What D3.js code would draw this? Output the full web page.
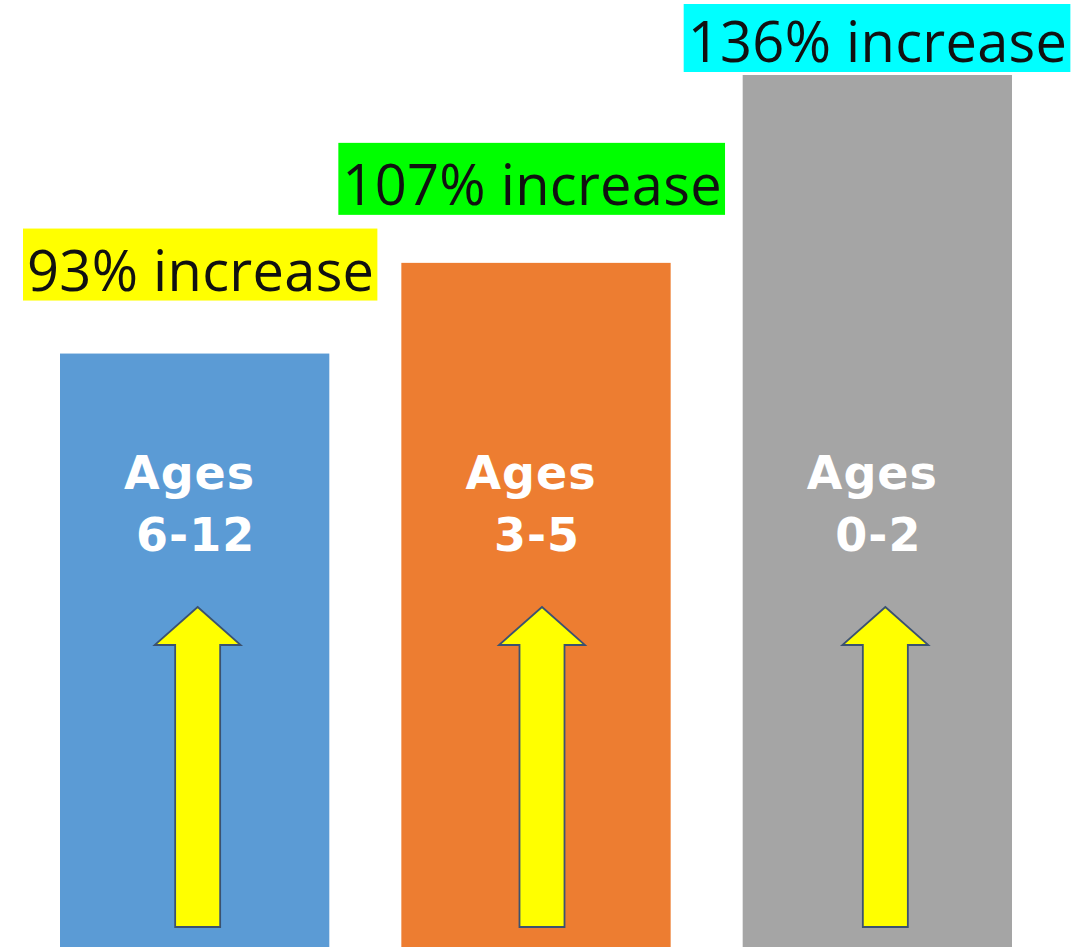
<!DOCTYPE html>
<html>
<head>
<meta charset="utf-8">
<script src="https://cdn.jsdelivr.net/npm/d3@7"></script>
<style>
  html, body { margin: 0; padding: 0; background: #ffffff; }
  svg { display: block; }
</style>
</head>
<body>
<svg id="chart" width="1089" height="947"></svg>
<script>
// ---- Data ----
const categories = ["6-12", "3-5", "0-2"];
const categoryPrefix = ["Ages", "Ages", "Ages"];
const increases = [93, 107, 136];
const increaseLabels = ["93% increase", "107% increase", "136% increase"];

// ---- Styles / layout (kept separate from data) ----
const barColors = ["#5B9BD5", "#ED7D31", "#A5A5A5"];
const labelBg = ["#FFFF00", "#00FF00", "#00FFFF"];
const labelDx = [-37, -63, -59];     // label box left relative to bar left
const labelGap = [53, 48, 3];        // gap between label box bottom and bar top
const arrowDx = [3, 6, 8];           // arrow center offset from bar center

const svg = d3.select("#chart");

const x = d3.scaleBand()
  .domain(categories)
  .range([60, 1012])
  .paddingInner(0.211)
  .paddingOuter(0);

const y = d3.scaleLinear()
  .domain([0, 136])
  .range([956, 75]);

const g = svg.append("g");

// Bars
g.selectAll("rect.bar")
  .data(categories)
  .join("rect")
  .attr("class", "bar")
  .attr("x", d => x(d))
  .attr("y", (d, i) => y(increases[i]))
  .attr("width", x.bandwidth())
  .attr("height", (d, i) => y(0) - y(increases[i]))
  .attr("fill", (d, i) => barColors[i]);

// Category labels inside bars (one text, two lines)
const catText = g.selectAll("text.cat")
  .data(categories)
  .join("text")
  .attr("class", "cat")
  .attr("text-anchor", "middle")
  .attr("font-family", "'DejaVu Sans', 'Open Sans', sans-serif")
  .attr("font-weight", "bold")
  .attr("font-size", 46)
  .attr("letter-spacing", 1)
  .attr("fill", "#ffffff");

catText.append("tspan")
  .attr("x", d => x(d) + x.bandwidth() / 2 - 5)
  .attr("y", 489)
  .text((d, i) => categoryPrefix[i]);

catText.append("tspan")
  .attr("x", d => x(d) + x.bandwidth() / 2 + 1)
  .attr("y", 551)
  .text(d => d);

// Arrows
const tipY = 607, headBaseY = 645, bottomY = 927;
const headHalf = 43, shaftHalf = 22.5;
g.selectAll("path.arrow")
  .data(categories)
  .join("path")
  .attr("class", "arrow")
  .attr("d", (d, i) => {
    const cx = x(d) + x.bandwidth() / 2 + arrowDx[i];
    return `M${cx},${tipY} L${cx + headHalf},${headBaseY} L${cx + shaftHalf},${headBaseY}
            L${cx + shaftHalf},${bottomY} L${cx - shaftHalf},${bottomY} L${cx - shaftHalf},${headBaseY}
            L${cx - headHalf},${headBaseY} Z`;
  })
  .attr("fill", "#FFFF00")
  .attr("stroke", "#3b5270")
  .attr("stroke-width", 1.8)
  .attr("stroke-linejoin", "miter");

// Increase labels with highlight boxes
const lblG = g.selectAll("g.lbl")
  .data(categories)
  .join("g")
  .attr("class", "lbl");

const boxH = 72;
lblG.each(function(d, i) {
  const sel = d3.select(this);
  const left = x(d) + labelDx[i];
  const bottom = y(increases[i]) - labelGap[i];
  const top = Math.max(4, bottom - boxH);
  const rect = sel.append("rect")
    .attr("x", left)
    .attr("y", top)
    .attr("height", bottom - top)
    .attr("fill", labelBg[i]);
  const t = sel.append("text")
    .attr("x", left + 4)
    .attr("y", bottom - 10)
    .attr("font-family", "'Open Sans', 'Noto Sans', sans-serif")
    .attr("font-size", 56)
    .attr("letter-spacing", 0.3)
    .attr("fill", "#111111")
    .text(increaseLabels[i]);
  const w = t.node().getComputedTextLength();
  rect.attr("width", w + 7);
});
</script>
</body>
</html>
